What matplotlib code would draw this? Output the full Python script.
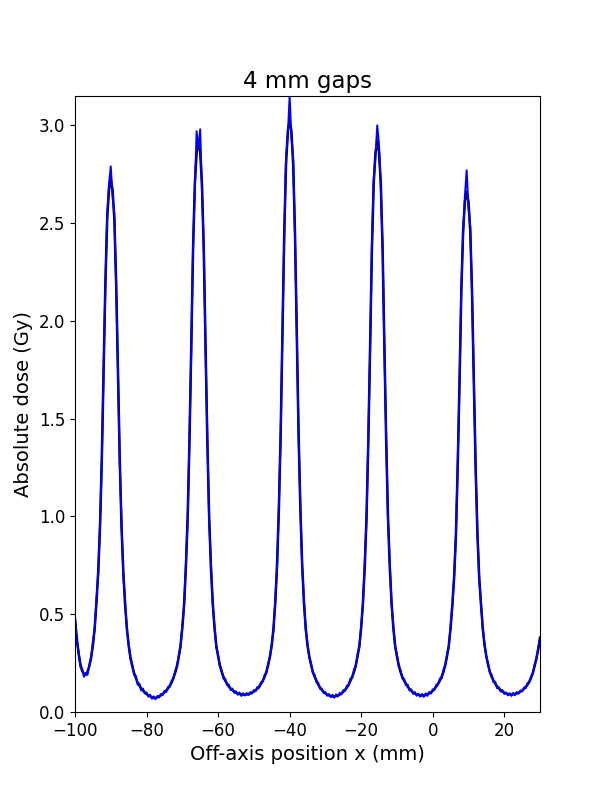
import numpy as np
import matplotlib
matplotlib.use("Agg")
import matplotlib.pyplot as plt

# Off-axis positions (mm), 0.5 mm sampling from -100 to 30
x_mm = np.arange(-100.0, 30.0 + 0.25, 0.5)

# Calculated (smooth) dose profile, Gy -- rows of 10 points (5 mm each)
dose_calc = [
    0.47, 0.38, 0.30, 0.245, 0.21, 0.195, 0.19, 0.205, 0.235, 0.28,   # -100.0
    0.34, 0.43, 0.56, 0.72, 0.95, 1.30, 1.74, 2.20, 2.52, 2.67,       # -95.0
    2.72, 2.67, 2.52, 2.20, 1.74, 1.30, 0.95, 0.72, 0.55, 0.43,       # -90.0
    0.34, 0.28, 0.235, 0.20, 0.175, 0.15, 0.135, 0.12, 0.11, 0.10,    # -85.0
    0.092, 0.085, 0.08, 0.075, 0.072, 0.072, 0.075, 0.08, 0.085, 0.092,  # -80.0
    0.10, 0.11, 0.12, 0.135, 0.15, 0.175, 0.20, 0.235, 0.28, 0.34,    # -75.0
    0.43, 0.55, 0.74, 1.00, 1.38, 1.86, 2.36, 2.70, 2.86, 2.92,       # -70.0
    2.86, 2.70, 2.36, 1.86, 1.38, 1.00, 0.74, 0.56, 0.43, 0.34,       # -65.0
    0.285, 0.24, 0.205, 0.18, 0.16, 0.145, 0.13, 0.12, 0.112, 0.105,  # -60.0
    0.099, 0.095, 0.092, 0.09, 0.089, 0.089, 0.09, 0.092, 0.095, 0.099,  # -55.0
    0.105, 0.112, 0.12, 0.13, 0.145, 0.16, 0.18, 0.205, 0.24, 0.285,  # -50.0
    0.34, 0.43, 0.56, 0.76, 1.04, 1.43, 1.93, 2.45, 2.80, 2.97,       # -45.0
    3.03, 2.97, 2.80, 2.45, 1.93, 1.43, 1.04, 0.76, 0.56, 0.43,       # -40.0
    0.34, 0.285, 0.24, 0.205, 0.18, 0.16, 0.14, 0.125, 0.113, 0.103,  # -35.0
    0.095, 0.089, 0.085, 0.082, 0.08, 0.08, 0.082, 0.085, 0.089, 0.095,  # -30.0
    0.103, 0.113, 0.125, 0.14, 0.16, 0.18, 0.205, 0.24, 0.285, 0.34,  # -25.0
    0.43, 0.56, 0.74, 1.00, 1.38, 1.86, 2.36, 2.70, 2.86, 2.92,       # -20.0
    2.86, 2.70, 2.36, 1.86, 1.38, 1.00, 0.74, 0.56, 0.43, 0.34,       # -15.0
    0.285, 0.24, 0.205, 0.18, 0.16, 0.145, 0.13, 0.118, 0.108, 0.10,  # -10.0
    0.095, 0.09, 0.087, 0.085, 0.085, 0.085, 0.087, 0.09, 0.095, 0.10,   # -5.0
    0.108, 0.118, 0.13, 0.145, 0.16, 0.18, 0.205, 0.24, 0.285, 0.34,  # 0.0
    0.43, 0.55, 0.69, 0.91, 1.26, 1.69, 2.15, 2.46, 2.61, 2.66,       # 5.0
    2.61, 2.46, 2.15, 1.69, 1.26, 0.91, 0.69, 0.55, 0.43, 0.34,       # 10.0
    0.285, 0.24, 0.205, 0.18, 0.16, 0.145, 0.13, 0.12, 0.112, 0.105,  # 15.0
    0.099, 0.095, 0.092, 0.09, 0.089, 0.09, 0.092, 0.095, 0.099, 0.104,  # 20.0
    0.11, 0.118, 0.128, 0.14, 0.155, 0.175, 0.20, 0.235, 0.275, 0.32,  # 25.0
    0.38,                                                              # 30.0
]

# Measured (noisy) dose profile, Gy
dose_meas = [
    0.49, 0.36, 0.31, 0.23, 0.22, 0.18, 0.20, 0.19, 0.24, 0.27,       # -100.0
    0.36, 0.42, 0.58, 0.71, 0.97, 1.28, 1.76, 2.18, 2.55, 2.70,       # -95.0
    2.79, 2.64, 2.55, 2.17, 1.76, 1.28, 0.97, 0.70, 0.57, 0.42,       # -90.0
    0.35, 0.27, 0.245, 0.19, 0.185, 0.14, 0.145, 0.11, 0.12, 0.095,   # -85.0
    0.10, 0.078, 0.088, 0.068, 0.08, 0.065, 0.082, 0.074, 0.092, 0.086,  # -80.0
    0.108, 0.102, 0.128, 0.128, 0.16, 0.168, 0.21, 0.228, 0.29, 0.33,  # -75.0
    0.44, 0.54, 0.76, 0.98, 1.40, 1.84, 2.38, 2.68, 2.97, 2.88,       # -70.0
    2.98, 2.66, 2.39, 1.84, 1.40, 0.98, 0.76, 0.55, 0.44, 0.33,       # -65.0
    0.295, 0.23, 0.215, 0.17, 0.17, 0.138, 0.14, 0.112, 0.12, 0.098,  # -60.0
    0.106, 0.088, 0.10, 0.082, 0.096, 0.084, 0.097, 0.086, 0.102, 0.094,  # -55.0
    0.112, 0.106, 0.128, 0.124, 0.152, 0.155, 0.19, 0.198, 0.25, 0.278,  # -50.0
    0.35, 0.42, 0.58, 0.74, 1.06, 1.41, 1.95, 2.43, 2.84, 2.95,       # -45.0
    3.15, 2.94, 2.83, 2.43, 1.95, 1.41, 1.06, 0.74, 0.58, 0.42,       # -40.0
    0.35, 0.278, 0.25, 0.198, 0.19, 0.152, 0.15, 0.118, 0.12, 0.097,  # -35.0
    0.102, 0.083, 0.092, 0.076, 0.088, 0.073, 0.09, 0.079, 0.098, 0.09,  # -30.0
    0.112, 0.108, 0.135, 0.135, 0.172, 0.174, 0.218, 0.232, 0.296, 0.33,  # -25.0
    0.44, 0.55, 0.76, 0.98, 1.40, 1.84, 2.38, 2.72, 2.84, 3.00,       # -20.0
    2.90, 2.68, 2.38, 1.84, 1.40, 0.98, 0.76, 0.55, 0.44, 0.33,       # -15.0
    0.295, 0.232, 0.215, 0.172, 0.17, 0.138, 0.14, 0.11, 0.116, 0.093,  # -10.0
    0.102, 0.083, 0.094, 0.078, 0.092, 0.077, 0.095, 0.082, 0.102, 0.094,  # -5.0
    0.116, 0.112, 0.14, 0.14, 0.172, 0.172, 0.215, 0.235, 0.295, 0.33,  # 0.0
    0.44, 0.54, 0.70, 0.90, 1.28, 1.67, 2.17, 2.44, 2.64, 2.77,       # 5.0
    2.58, 2.48, 2.13, 1.71, 1.24, 0.93, 0.68, 0.56, 0.42, 0.35,       # 10.0
    0.28, 0.25, 0.198, 0.19, 0.152, 0.155, 0.122, 0.128, 0.104, 0.112,  # 15.0
    0.092, 0.10, 0.085, 0.096, 0.082, 0.098, 0.086, 0.102, 0.093, 0.11,  # 20.0
    0.104, 0.125, 0.122, 0.148, 0.15, 0.183, 0.195, 0.245, 0.27, 0.33,  # 25.0
    0.37,                                                              # 30.0
]

x_ticks = [-100, -80, -60, -40, -20, 0, 20]
y_ticks = [0.0, 0.5, 1.0, 1.5, 2.0, 2.5, 3.0]

fig = plt.figure(figsize=(6, 8), dpi=100)
ax = fig.add_subplot(111)
fig.subplots_adjust(left=0.125, right=0.9, bottom=0.11, top=0.88)

ax.plot(x_mm, dose_calc, color="black", lw=1.8)
ax.plot(x_mm, dose_meas, color="blue", lw=1.4)

ax.set_xlim(-100, 30)
ax.set_ylim(0, 3.15)
ax.set_xticks(x_ticks)
ax.set_yticks(y_ticks)
ax.tick_params(labelsize=12)
ax.set_title("4 mm gaps", fontsize=16.5)
ax.set_xlabel("Off-axis position x (mm)", fontsize=14)
ax.set_ylabel("Absolute dose (Gy)", fontsize=14)

fig.savefig("out.png", dpi=100)
